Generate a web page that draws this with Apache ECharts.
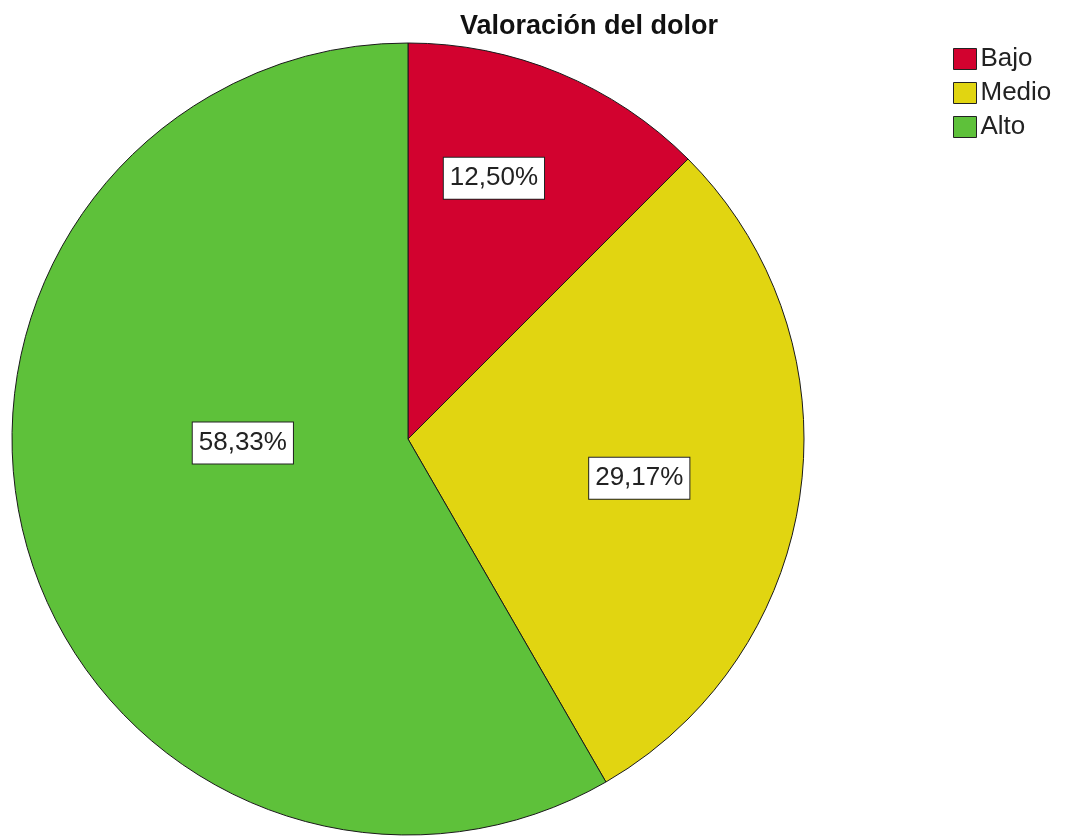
<!DOCTYPE html>
<html>
<head>
<meta charset="utf-8">
<script src="https://cdn.jsdelivr.net/npm/echarts@6/dist/echarts.min.js"></script>
<style>
  html, body { margin: 0; padding: 0; background: #fff; }
  #main { width: 1065px; height: 836px; }
</style>
</head>
<body>
<div id="main"></div>
<script>
// categorias y porcentajes
const categories = ['Bajo', 'Medio', 'Alto'];
const percents = [12.50, 29.17, 58.33];
const colors = ['#D2022F', '#E1D511', '#5EC13A'];

const chart = echarts.init(document.getElementById('main'), null, { renderer: 'canvas' });

// desplazamiento de las etiquetas respecto a la posicion 'inside'
const labelOffsets = [[9, -75], [32, 13], [29, -48]];

const pieData = categories.map((name, i) => ({
  name: name,
  value: percents[i],
  itemStyle: { color: colors[i] },
  label: { offset: labelOffsets[i] }
}));

chart.setOption({
  backgroundColor: '#ffffff',
  animation: false,
  title: {
    text: 'Valoración del dolor',
    left: 584,
    top: 8,
    textAlign: 'center',
    textStyle: {
      fontFamily: 'Liberation Sans',
      fontWeight: 'bold',
      fontSize: 27,
      color: '#111'
    }
  },
  legend: {
    orient: 'vertical',
    left: 948,
    top: 41,
    itemWidth: 23,
    itemHeight: 21,
    itemGap: 8,
    icon: 'rect',
    data: categories,
    itemStyle: { borderColor: '#222', borderWidth: 1 },
    textStyle: {
      fontFamily: 'Liberation Sans',
      fontSize: 26,
      lineHeight: 26,
      color: '#222',
      padding: [0, 0, 0, -1]
    }
  },
  series: [{
    type: 'pie',
    center: [408, 439],
    radius: [0, 396],
    startAngle: 90,
    clockwise: true,
    silent: true,
    itemStyle: { borderColor: '#1a1a1a', borderWidth: 1 },
    label: {
      show: true,
      position: 'inside',
      formatter: p => p.value.toFixed(2).replace('.', ',') + '%',
      fontFamily: 'Liberation Sans',
      fontSize: 26,
      color: '#222',
      backgroundColor: '#ffffff',
      borderColor: '#222',
      borderWidth: 1,
      padding: [8, 6, 7, 6]
    },
    labelLine: { show: false },
    data: pieData
  }]
});
</script>
</body>
</html>
